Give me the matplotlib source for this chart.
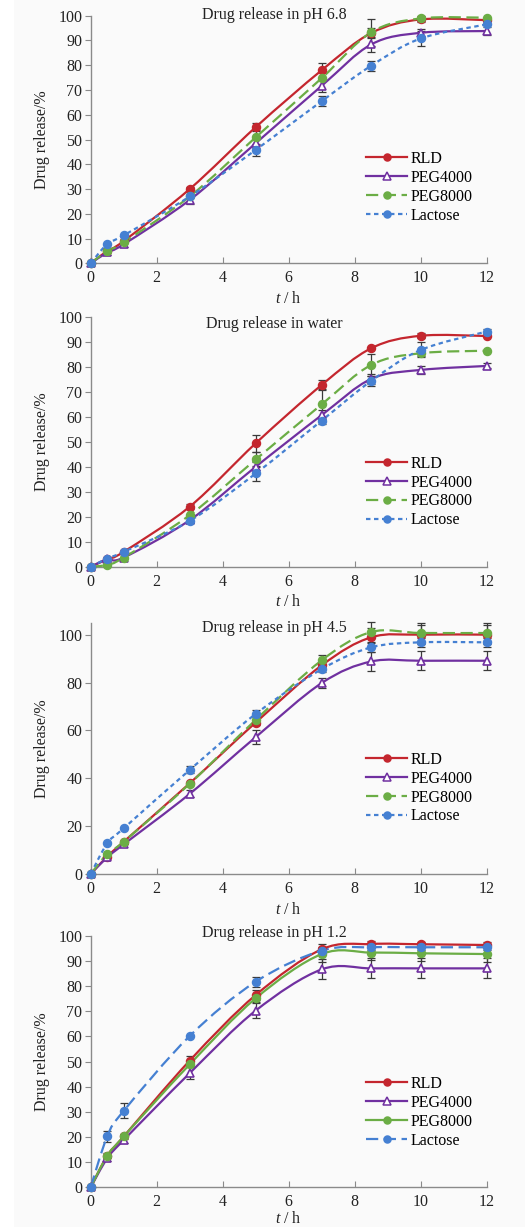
import matplotlib
matplotlib.use("Agg")
import matplotlib.pyplot as plt
import numpy as np
from matplotlib.path import Path
from matplotlib.patches import PathPatch, Rectangle
from matplotlib.lines import Line2D

plt.rcParams['font.family'] = ['Liberation Serif', 'DejaVu Serif']
plt.rcParams['mathtext.fontset'] = 'custom'
plt.rcParams['mathtext.rm'] = 'Liberation Serif'
plt.rcParams['mathtext.it'] = 'Liberation Serif:italic'

# sampling times (h)
t = [0, 0.5, 1, 3, 5, 7, 8.5, 10, 12]
series = ["RLD", "PEG4000", "PEG8000", "Lactose"]
titles = ["Drug release in pH 6.8", "Drug release in water",
          "Drug release in pH 4.5", "Drug release in pH 1.2"]

# pH 6.8
ph68_rld = [0, 5, 9, 30, 55, 78, 93, 98.5, 98.2]
ph68_peg4000 = [0, 4.4, 7.7, 25.6, 48.5, 71.7, 88.4, 93.1, 93.8]
ph68_peg8000 = [0, 5, 8.5, 27, 50.9, 74.8, 93.3, 98.9, 99.2]
ph68_lactose = [0, 7.8, 11.3, 27, 45.8, 65.5, 79.8, 90.8, 96.5]
ph68_err = [[0, 0, 0, 1, 1.5, 3, 2, 1, 0],
            [0, 1, 1, 1.5, 2, 2.5, 3, 1.5, 1.5],
            [0, 0, 0, 0, 3, 0, 5.5, 1, 0],
            [0, 0, 0, 0, 2.5, 2, 2, 3, 0]]

# water
water_rld = [0, 3, 6, 24.1, 49.5, 72.9, 87.6, 92.6, 92.5]
water_peg4000 = [0, 3, 3.7, 18.7, 40.1, 60.8, 75.3, 78.9, 80.5]
water_peg8000 = [0, 0.8, 3.7, 20.7, 43, 65.1, 80.9, 85.6, 86.6]
water_lactose = [0, 3.3, 6, 18.4, 37.4, 58.6, 74.5, 86.9, 94.3]
water_err = [[0, 0, 0, 1, 3.5, 2, 0.5, 1, 0],
             [0, 0, 0, 1, 2, 2, 2, 1.5, 1],
             [0, 0, 0, 0, 3, 6, 4.5, 1, 0],
             [0, 0, 0, 1, 3, 1.5, 2, 3, 1]]

# pH 4.5
ph45_rld = [0, 7.3, 13.5, 37.9, 63.3, 87.2, 98.9, 100, 100]
ph45_peg4000 = [0, 7, 12.4, 33.5, 57.2, 79.8, 88.8, 89.1, 89.1]
ph45_peg8000 = [0, 8.4, 13.5, 37.7, 64.4, 89.3, 101.1, 100.7, 100.7]
ph45_lactose = [0, 12.8, 19.1, 43.5, 66.9, 85.6, 94.7, 96.8, 96.8]
ph45_err = [[0, 0, 0, 0, 1, 2, 4, 4, 4],
            [0, 0, 0, 1.5, 3, 2, 4, 4, 4],
            [0, 0, 0, 0, 0, 2, 4, 4, 4],
            [0, 0, 0, 1.5, 1.5, 1, 2, 2, 2]]

# pH 1.2
ph12_rld = [0, 12.5, 20.2, 50.4, 76.5, 94.7, 96.8, 96.7, 96.4]
ph12_peg4000 = [0, 11.5, 18.8, 45.4, 70.3, 86.7, 87.1, 87.1, 87.1]
ph12_peg8000 = [0, 12.5, 20.2, 48.9, 75.2, 92.8, 93.4, 93.1, 92.8]
ph12_lactose = [0, 20.2, 30.4, 60.2, 81.8, 94.2, 95.5, 95.5, 95.5]
ph12_err = [[0, 0, 0, 2, 2, 2, 1, 1, 1],
            [0, 1, 1, 2.5, 3, 4, 4, 4, 4],
            [0, 1, 1, 1, 1.5, 3, 3, 3, 3],
            [0, 2, 3, 0, 2, 1, 1, 1, 1]]

panels = [
    ([ph68_rld, ph68_peg4000, ph68_peg8000, ph68_lactose], ph68_err),
    ([water_rld, water_peg4000, water_peg8000, water_lactose], water_err),
    ([ph45_rld, ph45_peg4000, ph45_peg8000, ph45_lactose], ph45_err),
    ([ph12_rld, ph12_peg4000, ph12_peg8000, ph12_lactose], ph12_err),
]

colors = ['#c4262e', '#7030a0', '#6bad45', '#4580d2']
markers = ['o', '^', 'o', 'o']
long_dash = (0, (5.5, 2.5))
short_dash = (0, (2, 1.6))
styles = [
    ['-', '-', long_dash, short_dash],
    ['-', '-', long_dash, short_dash],
    ['-', '-', long_dash, short_dash],
    ['-', '-', '-', long_dash],
]

# axes boxes in figure fractions: left, bottom, width, height
boxes = [(0.1728, 0.7854, 0.7543, 0.2018),
         (0.1728, 0.5381, 0.7543, 0.2033),
         (0.1728, 0.2877, 0.7543, 0.2048),
         (0.1728, 0.0324, 0.7543, 0.2048)]
ylims = [100, 100, 105, 100]
ysteps = [10, 10, 20, 10]
title_y = [1.003, 0.973, 0.979, 1.012]
legend_y = [0.454, 0.445, 0.486, 0.443]
xlabel_y = [-0.11, -0.11, -0.11, -0.095]


def smooth_path(x, y):
    # Excel-like smoothed line as cubic bezier segments
    n = len(x)
    verts = [(x[0], y[0])]
    codes = [Path.MOVETO]
    for i in range(n - 1):
        a = max(i - 1, 0)
        b = min(i + 2, n - 1)
        c1 = (x[i] + (x[i + 1] - x[a]) / 6, y[i] + (y[i + 1] - y[a]) / 6)
        c2 = (x[i + 1] - (x[b] - x[i]) / 6, y[i + 1] - (y[b] - y[i]) / 6)
        verts += [c1, c2, (x[i + 1], y[i + 1])]
        codes += [Path.CURVE4] * 3
    return Path(verts, codes)


fig = plt.figure(figsize=(5.25, 12.27), dpi=100, facecolor='#fafafa')
fig.patches.append(Rectangle((0, 0), 14 / 525, 1, transform=fig.transFigure,
                             facecolor='white', edgecolor='none', zorder=-1))

for k in range(4):
    data, errs = panels[k]
    ax = fig.add_axes(boxes[k])
    ax.set_facecolor('none')
    handles = []
    for j in range(4):
        y = data[j]
        ax.errorbar(t, y, yerr=errs[j], fmt='none', ecolor='#3a3a3a',
                    elinewidth=0.9, capsize=3, capthick=0.9, zorder=2, clip_on=False)
        ax.add_patch(PathPatch(smooth_path(t, y), facecolor='none', edgecolor=colors[j],
                               lw=1.6, linestyle=styles[k][j], zorder=3, clip_on=False,
                               capstyle='butt'))
        if markers[j] == '^':
            ax.plot(t, y, linestyle='none', marker='^', ms=6, mfc='white',
                    mec=colors[j], mew=1.2, zorder=4, clip_on=False)
        else:
            ax.plot(t, y, linestyle='none', marker='o', ms=5.8, mfc=colors[j],
                    mec=colors[j], zorder=4, clip_on=False)
        handles.append(Line2D([], [], color=colors[j], lw=1.6, linestyle=styles[k][j],
                              marker=markers[j], ms=5 if markers[j] == 'o' else 5.5,
                              mfc='white' if markers[j] == '^' else colors[j],
                              mec=colors[j], mew=1.1))
    ax.set_xlim(0, 12)
    ax.set_ylim(0, ylims[k])
    ax.set_xticks(range(0, 13, 2))
    ax.set_yticks(range(0, 101, ysteps[k]))
    for s in ['top', 'right']:
        ax.spines[s].set_visible(False)
    for s in ['left', 'bottom']:
        ax.spines[s].set_color('#8a8a8a')
        ax.spines[s].set_linewidth(1.0)
    ax.tick_params(axis='y', direction='out', length=4, color='#8a8a8a',
                   labelsize=11.5, labelcolor='#222222', pad=2)
    ax.tick_params(axis='x', direction='in', length=4, color='#8a8a8a',
                   labelsize=11.5, labelcolor='#222222', pad=5)
    ax.set_ylabel('Drug release/%', fontsize=11.5, color='#222222')
    ax.yaxis.set_label_coords(-0.103, 0.5)
    ax.set_xlabel('$t$ / h', fontsize=11.5, color='#222222')
    ax.xaxis.set_label_coords(0.5, xlabel_y[k])
    ax.text(0.463, title_y[k], titles[k], transform=ax.transAxes, ha='center',
            va='center', fontsize=11.5, color='#222222')
    ax.legend(handles, series, loc='upper left', bbox_to_anchor=(0.695, legend_y[k]),
              frameon=False, fontsize=11.5, handlelength=2.6, handletextpad=0.2,
              labelspacing=0.18, borderpad=0, borderaxespad=0)

fig.savefig('out.png', dpi=100, facecolor=fig.get_facecolor())
